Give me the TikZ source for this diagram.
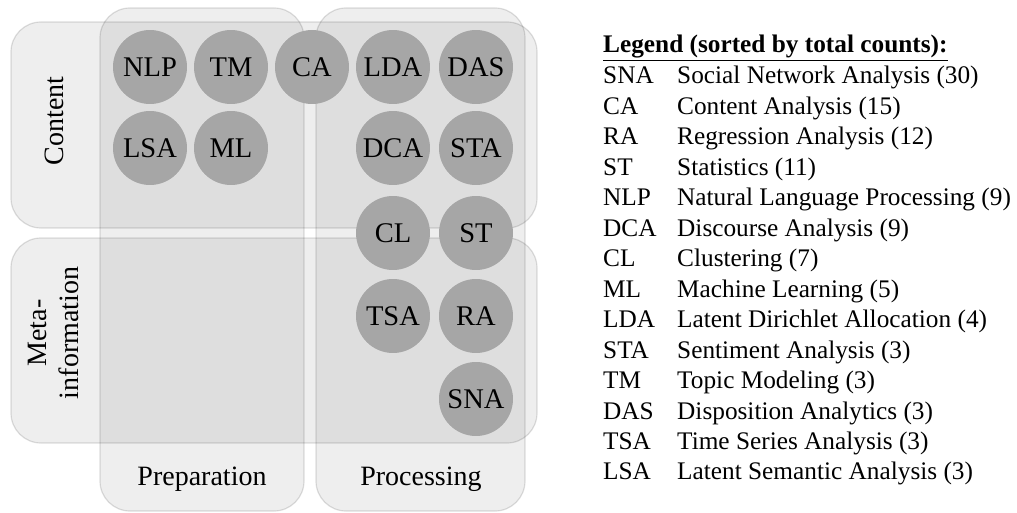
\documentclass[tikz,border=0pt]{standalone}
\usepackage{fontspec}
\setmainfont{Liberation Serif}
\definecolor{methodgray}{HTML}{A6A6A6}
\begin{document}
\begin{tikzpicture}[x=1pt,y=-1pt,
  band/.style={rounded corners=30pt, fill=black, fill opacity=0.067, draw=black, draw opacity=0.13, line width=1.2pt},
  method/.style={circle, fill=methodgray, minimum size=74pt, inner sep=0pt, text height=18.5pt, text depth=0pt, font=\fontsize{28.5}{30}\selectfont},
  axislabel/.style={font=\fontsize{28}{32}\selectfont, align=center, inner sep=0pt},
  legtext/.style={font=\fontsize{25.3}{29}\selectfont, anchor=base west, inner sep=0pt}]
\useasboundingbox (0,0) rectangle (1017,513);
% bands
\path[band] (11,22) rectangle (537,228);
\path[band] (11,238) rectangle (537,443);
\path[band] (100,8) rectangle (304,511);
\path[band] (316,8) rectangle (525,511);
% axis labels
\node[axislabel, rotate=90, anchor=base] (content) at (63,121) {Content};
\node[axislabel, rotate=90] (meta) at (53,333) {Meta-\\information};
\node[axislabel, anchor=base] (prep) at (202,485) {Preparation};
\node[axislabel, anchor=base] (proc) at (421,485) {Processing};
% methods
\node[method] (NLP) at (150,67) {NLP};
\node[method] (TM)  at (231,67) {TM};
\node[method] (CA)  at (312,67) {CA};
\node[method] (LDA) at (393,67) {LDA};
\node[method] (DAS) at (476,67) {DAS};
\node[method] (LSA) at (150,148) {LSA};
\node[method] (ML)  at (231,148) {ML};
\node[method] (DCA) at (393,148) {DCA};
\node[method] (STA) at (476,148) {STA};
\node[method] (CL)  at (393,233) {CL};
\node[method] (ST)  at (476,233) {ST};
\node[method] (TSA) at (393,316) {TSA};
\node[method] (RA)  at (476,316) {RA};
\node[method] (SNA) at (476,399) {SNA};
% legend
\node[legtext] (leghead) at (603,53) {\textbf{\underline{Legend (sorted by total counts):}}};
\foreach \ab/\desc [count=\i from 0] in {
  SNA/Social Network Analysis (30),
  CA/Content Analysis (15),
  RA/Regression Analysis (12),
  ST/Statistics (11),
  NLP/Natural Language Processing (9),
  DCA/Discourse Analysis (9),
  CL/Clustering (7),
  ML/Machine Learning (5),
  LDA/Latent Dirichlet Allocation (4),
  STA/Sentiment Analysis (3),
  TM/Topic Modeling (3),
  DAS/Disposition Analytics (3),
  TSA/Time Series Analysis (3),
  LSA/Latent Semantic Analysis (3)}{
  \node[legtext] (ab\i) at (603,84+30.46*\i) {\ab};
  \node[legtext] (desc\i) at (677,84+30.46*\i) {\desc};
}
\end{tikzpicture}
\end{document}
